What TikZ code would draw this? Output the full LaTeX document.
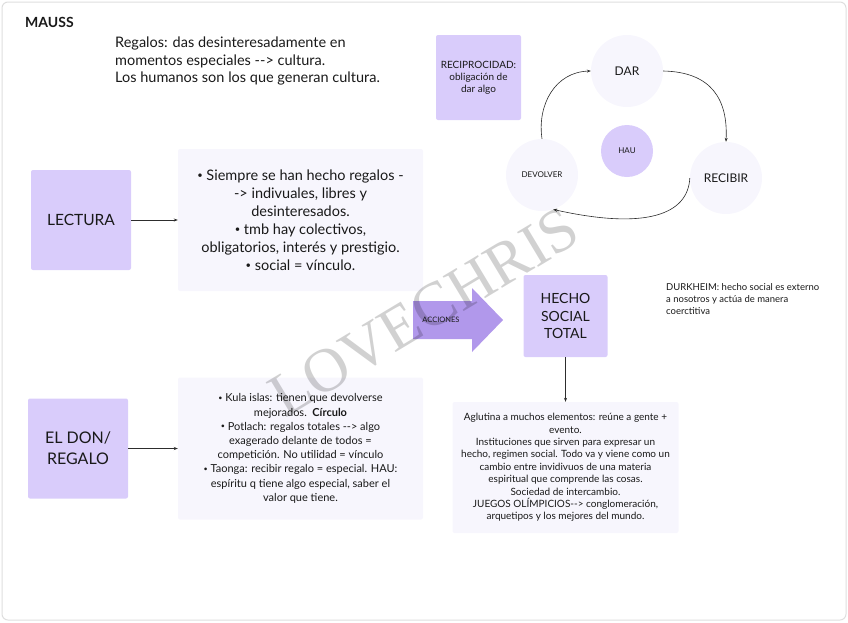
\documentclass[tikz,border=0pt]{standalone}
\usepackage{fontspec}
\setmainfont{Lato}
\newfontfamily\wmfont{Liberation Serif}
\usepackage{tikz}
\usetikzlibrary{arrows.meta, positioning, calc}
\definecolor{mylilac}{RGB}{217,204,251}
\definecolor{mynote}{RGB}{247,246,253}
\definecolor{myarrow}{RGB}{177,152,235}
\definecolor{mydark}{RGB}{45,45,45}
\definecolor{myframe}{RGB}{222,222,222}
\definecolor{mytext}{RGB}{25,25,25}
\newcommand{\fs}[2]{\fontsize{#1}{#2}\selectfont}
\newcommand{\dsh}{-\kern0pt-}
\newcommand{\bul}{\raisebox{0.12em}{\scalebox{0.65}{•}}~}
\tikzset{
  lilacbox/.style={rectangle, fill=mylilac, align=center, text=mytext,
    rounded corners=2pt, inner sep=0pt},
  notebox/.style={rectangle, fill=mynote, align=center, text=mytext,
    rounded corners=2pt, inner sep=0pt},
  bubble/.style={circle, fill=mynote, text=mytext, inner sep=0pt,
    minimum size=72pt},
  plaintext/.style={align=left, inner sep=0pt, text=mytext},
  arrow/.style={-{Stealth[length=4pt,width=3pt]}, line width=0.6pt, color=mydark}
}

\begin{document}
\begin{tikzpicture}[x=1pt, y=-1pt]
  \useasboundingbox (0,0) rectangle (848,622);
  % Frame
  \draw[myframe, line width=1pt, rounded corners=6pt] (2,2) rectangle (846,620);

  % Title and intro
  \node[plaintext, anchor=west, font=\fs{14}{17}\bfseries] (mauss) at (25,22) {MAUSS};
  \node[plaintext, anchor=west, font=\fs{14.5}{17.5}] (intro) at (115,61)
    {Regalos: das desinteresadamente en\\momentos especiales \dsh> cultura.\\Los humanos son los que generan cultura.};

  % Reciprocity cycle
  \node[lilacbox, minimum width=85pt, minimum height=85pt, font=\fs{10}{12}] (recip) at (478.5,77.5)
    {RECIPROCIDAD:\\obligación de\\dar algo};
  \node[bubble, font=\fs{12}{14}] (dar) at (627,71) {DAR};
  \node[circle, fill=mylilac, text=mytext, inner sep=0pt, minimum size=52pt, font=\fs{8}{10}] (hau) at (627,151) {HAU};
  \node[bubble, font=\fs{8}{10}] (devolver) at (542,175) {DEVOLVER};
  \node[bubble, font=\fs{12}{14}] (recibir) at (726,178) {RECIBIR};

  \draw[arrow] (dar.east) .. controls (712,72) and (728,100) .. (recibir.north);
  \draw[arrow] (recibir.west) .. controls (688,215) and (645,230) .. (devolver.-72);
  \draw[arrow] (devolver.north) .. controls (537,105) and (555,72) .. (dar.west);

  % Lectura
  \node[lilacbox, minimum width=100pt, minimum height=100pt, font=\fs{15.5}{19}] (lectura) at (81,220) {LECTURA};
  \node[notebox, minimum width=245pt, minimum height=142pt, font=\fs{14.5}{18}] (lectnote) at (300.5,220)
    {\bul Siempre se han hecho regalos -\\-> indivuales, libres y\\desinteresados.\\\bul tmb hay colectivos,\\obligatorios, interés y prestigio.\\\bul social = vínculo.};
  \draw[arrow] (lectura) -- (lectnote);

  % El don
  \node[lilacbox, minimum width=100pt, minimum height=100pt, font=\fs{16}{21}] (don) at (78,448.5) {EL DON/\\REGALO};
  \node[notebox, minimum width=245pt, minimum height=142pt, font=\fs{11}{14.2}] (donnote) at (300.5,448.5)
    {\bul Kula islas: tienen que devolverse\\mejorados.~~\textbf{Círculo}\\\bul Potlach: regalos totales \dsh> algo\\exagerado delante de todos =\\competición. No utilidad = vínculo\\\bul Taonga: recibir regalo = especial. HAU:\\espíritu q tiene algo especial, saber el\\valor que tiene.};
  \draw[arrow] (don) -- (donnote);

  % Acciones
  \fill[myarrow] (413,301) -- (472,301) -- (472,288) -- (503,320) -- (472,352) -- (472,339) -- (413,339) -- cycle;
  \node[text=mytext, inner sep=0pt, font=\fs{7.5}{9}] (acciones) at (441,320) {ACCIONES};

  % Hecho social total
  \node[lilacbox, minimum width=84pt, minimum height=82pt, font=\fs{14}{17.5}] (hecho) at (565.5,316)
    {HECHO\\SOCIAL\\TOTAL};
  \node[notebox, minimum width=226pt, minimum height=131pt, font=\fs{10}{12.4}] (hechonote) at (565.5,467.5)
    {Aglutina a muchos elementos: reúne a gente +\\evento.\\Instituciones que sirven para expresar un\\hecho, regimen social. Todo va y viene como un\\cambio entre invidivuos de una materia\\espiritual que comprende las cosas.\\Sociedad de intercambio.\\JUEGOS OLÍMPICIOS\dsh> conglomeración,\\arquetipos y los mejores del mundo.};
  \draw[arrow] (hecho) -- (hechonote);

  \node[plaintext, anchor=west, font=\fs{9.5}{12}] (durkheim) at (666,299)
    {DURKHEIM: hecho social es externo\\a nosotros y actúa de manera\\coerctitiva};

  % Watermark
  \node[rotate=31, text=black, text opacity=0.18, inner sep=0pt, font=\wmfont\fs{62}{62}] (mark) at (424,312) {LOVECHRIS};
\end{tikzpicture}
\end{document}
